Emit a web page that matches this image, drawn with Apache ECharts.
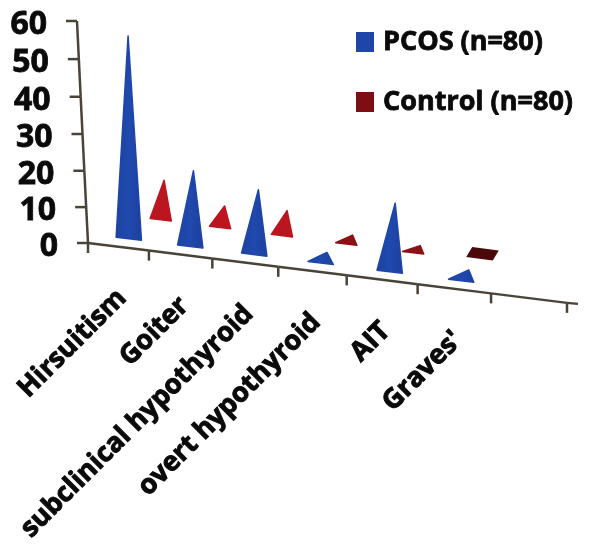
<!DOCTYPE html>
<html><head><meta charset="utf-8">
<style>html,body{margin:0;padding:0;background:#fff}#c{width:591px;height:549px}</style>
<script src="https://cdn.jsdelivr.net/npm/echarts@6/dist/echarts.min.js"></script>
</head><body><div id="c"></div>
<script>
const categories = ['Hirsuitism','Goiter','subclinical hypothyroid','overt hypothyroid','AIT',"Graves'"];
const pcos = [55, 21, 18, 3, 19, 3];
const control = [11, 6, 7, 2.5, 2, 0];
const yTicks = [0, 10, 20, 30, 40, 50, 60];
const seriesNames = ['PCOS (n=80)', 'Control (n=80)'];

const ox = 88, oy = 243, W = 479, H = 222, SLOPE = 0.125;
const FONT = '"Open Sans", "Noto Sans", sans-serif';
const AXIS = '#4a4338', INK = '#0a0a0a';

function project(pt, slant) {
  const s = (pt[0] - ox) / W, t = (oy - pt[1]) / H;
  const s2 = s - 0.128 * s * (1 - s), t2 = t - 0.036 * t * (1 - t);
  const X = ox + W * s2;
  return { x: X - (slant ? 11 * t : 0), y: oy - H * t2 + SLOPE * (X - ox), s: s };
}
function line(a, b, w) {
  return { type: 'line', shape: { x1: a[0], y1: a[1], x2: b[0], y2: b[1] },
    style: { stroke: AXIS, lineWidth: w || 2.5 } };
}
function hGrad(a, b, c) {
  return { type: 'linear', x: 0, y: 0, x2: 1, y2: 0,
    colorStops: [{ offset: 0, color: a }, { offset: 0.5, color: b }, { offset: 1, color: c }] };
}
function coneItem(depthX, depthY, frac, colorFor, edge) {
  return function (params, api) {
    const i = api.value(0), v = api.value(1);
    const band = api.size([1, 0])[0];
    const base = project(api.coord([i, 0]));
    const top = project(api.coord([i, v]));
    const dx = depthX * (1 - 0.45 * base.s);
    const cx = base.x + dx, cy = base.y + depthY;
    const hw = band * frac;
    const fill = colorFor(v);
    if (v === 0) {
      const my = cy - 8, w = hw * 1.25;
      return { type: 'polygon', shape: { points: [
        [cx - w + 3, my - 5 - SLOPE * w], [cx + w + 3, my - 5 + SLOPE * w],
        [cx + w - 3, my + 5 + SLOPE * w], [cx - w - 3, my + 5 - SLOPE * w]] },
        style: { fill: fill } };
    }
    const ay = top.y + depthY;
    const lean = 4 - 0.025 * (cy - ay) + 5 * base.s;
    return { type: 'polygon', shape: { points: [
      [cx + lean, ay], [cx + hw, cy + SLOPE * hw], [cx - hw, cy - SLOPE * hw]] },
      style: { fill: fill, stroke: typeof fill === 'string' ? fill : edge, lineWidth: 1.5, lineJoin: 'round' } };
  };
}
function xAxisItem(params, api) {
  const i = api.value(0);
  const band = api.size([1, 0])[0];
  const c = api.coord([i, 0]);
  const tick = project([c[0] - band / 2, c[1]]);
  const mid = project(c);
  const kids = [line([tick.x, tick.y], [tick.x, tick.y + 10])];
  const next = project([c[0] + band / 2, c[1]]);
  kids.push(line([tick.x, tick.y], [next.x, next.y]));
  if (i === categories.length) {
    kids.push(line([next.x, next.y], [next.x, next.y + 10]));
    kids.push(line([next.x, next.y], [next.x + 11, next.y + 1]));
  } else {
    kids.push({ type: 'text', x: mid.x + 4, y: mid.y + 47, rotation: Math.PI / 4,
      style: { text: categories[i], fill: INK, font: 'bold 27px ' + FONT,
        textAlign: 'right', textVerticalAlign: 'middle',
        stroke: INK, lineWidth: 1 } });
  }
  return { type: 'group', children: kids };
}
function yAxisItem(params, api) {
  const v = api.value(1);
  const p = project(api.coord([0, v]).map((d, k) => k === 0 ? ox : d), true);
  const kids = [line([p.x - 11, p.y], [p.x, p.y]),
    { type: 'text', x: p.x - 30, y: p.y + 4,
      style: { text: String(v), fill: INK, font: 'bold 32px ' + FONT,
        textAlign: 'right', textVerticalAlign: 'middle', stroke: INK, lineWidth: 0.8 } }];
  if (params.dataIndex > 0) {
    const q = project([ox, api.coord([0, yTicks[params.dataIndex - 1]])[1]], true);
    kids.push(line([q.x, q.y], [p.x, p.y]));
  }
  return { type: 'group', children: kids };
}

const slots = categories.concat(['']);
const chart = echarts.init(document.getElementById('c'), null, { renderer: 'canvas' });
chart.setOption({
  animation: false,
  backgroundColor: '#fff',
  grid: { left: ox, top: oy - H, width: W, height: H, containLabel: false },
  xAxis: { type: 'category', data: slots, show: false },
  yAxis: { type: 'value', min: 0, max: 60, interval: 10, show: false },
  legend: {
    data: seriesNames, orient: 'vertical', left: 356, top: 26, itemGap: 28,
    itemWidth: 18, itemHeight: 20, icon: 'rect', selectedMode: false, padding: 0,
    textStyle: { fontFamily: FONT, fontWeight: 'bold', fontSize: 27, lineHeight: 32, color: INK,
      padding: [0, 0, 0, 4], textBorderColor: INK, textBorderWidth: 0.8 }
  },
  series: [
    { type: 'custom', name: 'x-axis', silent: true, clip: false, z: 1,
      renderItem: xAxisItem, data: slots.map((_, i) => [i, 0]) },
    { type: 'custom', name: 'y-axis', silent: true, clip: false, z: 1,
      renderItem: yAxisItem, data: yTicks.map(v => [0, v]) },
    { type: 'custom', name: seriesNames[1], clip: false, z: 2, itemStyle: { color: '#7c0e14' },
      renderItem: coneItem(44, -27, 0.155, v => v === 0 ? '#4a0808' : v < 3 ? '#8a1216' : '#bb1620'),
      data: control.map((v, i) => [i, v]) },
    { type: 'custom', name: seriesNames[0], clip: false, z: 3, itemStyle: { color: '#1e46a8' },
      renderItem: coneItem(11, -8, 0.185, () => hGrad('#1c429f', '#2049ae', '#1c3f9c'), '#1e46a8'),
      data: pcos.map((v, i) => [i, v]) }
  ]
});
</script></body></html>
